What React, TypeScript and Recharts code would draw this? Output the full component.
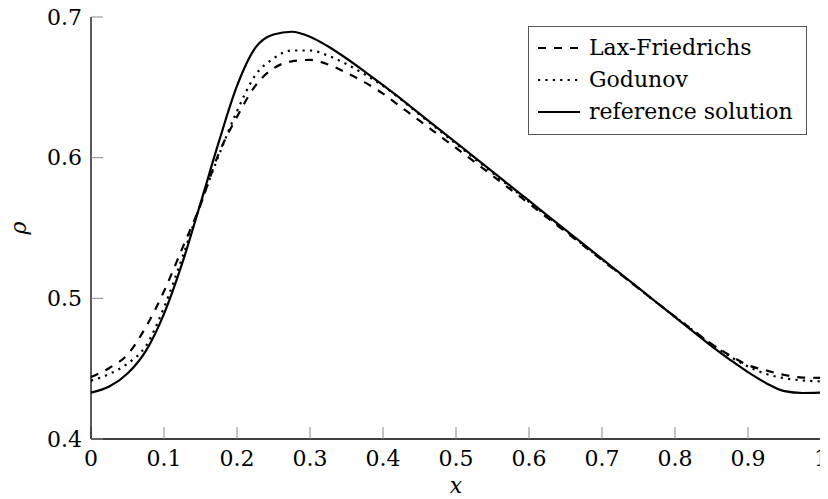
import React from 'react';
import { LineChart, Line, XAxis, YAxis, Legend, Label } from 'recharts';

const xValues = [
  0, 0.025, 0.05, 0.075, 0.1, 0.125, 0.15, 0.175, 0.2, 0.225,
  0.25, 0.275, 0.3, 0.325, 0.35, 0.375, 0.4, 0.425, 0.45, 0.475,
  0.5, 0.525, 0.55, 0.575, 0.6, 0.625, 0.65, 0.675, 0.7, 0.725,
  0.75, 0.775, 0.8, 0.825, 0.85, 0.875, 0.9, 0.925, 0.95, 0.975, 1,
];

const laxFriedrichs = [
  0.444, 0.4505, 0.46, 0.4795, 0.505, 0.5355, 0.5665, 0.603, 0.629, 0.651,
  0.6635, 0.6685, 0.6695, 0.6662, 0.6603, 0.6535, 0.6455, 0.6359, 0.6263, 0.6166,
  0.6069, 0.5971, 0.5872, 0.5773, 0.5674, 0.5573, 0.5473, 0.5373, 0.5272, 0.5172,
  0.5071, 0.497, 0.487, 0.4772, 0.4676, 0.4595, 0.4525, 0.4487, 0.4455, 0.4437, 0.4435,
];

const godunov = [
  0.4415, 0.4462, 0.4536, 0.466, 0.4935, 0.529, 0.567, 0.6015, 0.633, 0.6585,
  0.6705, 0.6762, 0.6762, 0.6725, 0.6665, 0.6592, 0.651, 0.6412, 0.6306, 0.6202,
  0.6098, 0.5995, 0.5892, 0.5789, 0.5686, 0.5583, 0.548, 0.5378, 0.5275, 0.5173,
  0.5071, 0.4969, 0.4868, 0.477, 0.4674, 0.4588, 0.4515, 0.4462, 0.4432, 0.4416, 0.441,
];

const referenceSolution = [
  0.433, 0.4373, 0.4466, 0.4625, 0.489, 0.525, 0.5675, 0.611, 0.651, 0.678,
  0.6876, 0.6895, 0.686, 0.679, 0.6705, 0.6612, 0.6515, 0.6417, 0.6313, 0.621,
  0.6107, 0.6004, 0.59, 0.5797, 0.5694, 0.559, 0.5487, 0.5384, 0.528, 0.5177,
  0.5074, 0.497, 0.4867, 0.4764, 0.466, 0.4565, 0.4475, 0.4397, 0.434, 0.4327, 0.433,
];

const xTicks = [0, 0.1, 0.2, 0.3, 0.4, 0.5, 0.6, 0.7, 0.8, 0.9, 1];
const yTicks = [0.4, 0.5, 0.6, 0.7];

const seriesNames = ['Lax-Friedrichs', 'Godunov', 'reference solution'];

const data = xValues.map((x, i) => ({
  x,
  lf: laxFriedrichs[i],
  god: godunov[i],
  ref: referenceSolution[i],
}));

const FONT = "'DejaVu Serif'";
const FS = 22;
const LW = 2.2;
const DASHED = '8 8';
const DOTTED = '2.2 5.2';

const styles: Record<string, string | undefined> = {
  lf: DASHED,
  god: DOTTED,
  ref: undefined,
};

const renderLegend = (props: any) => {
  const payload = [...(props.payload || [])].sort(
    (a: any, b: any) => seriesNames.indexOf(a.value) - seriesNames.indexOf(b.value)
  );
  return (
    <div
      style={{
        boxSizing: 'border-box',
        width: 279,
        height: 109,
        border: '1px solid #555',
        background: '#fff',
        paddingTop: 5,
        paddingLeft: 9,
        fontFamily: FONT,
        fontSize: FS,
        color: '#000',
      }}
    >
      {payload.map((entry: any) => (
        <div
          key={entry.dataKey}
          style={{ height: 32, lineHeight: '32px', display: 'flex', alignItems: 'center', whiteSpace: 'nowrap' }}
        >
          <svg width={42} height={10} style={{ marginRight: 9, flex: 'none' }}>
            <line
              x1={0}
              y1={5}
              x2={42}
              y2={5}
              stroke="#000"
              strokeWidth={LW}
              strokeDasharray={styles[entry.dataKey as string]}
            />
          </svg>
          <span>{entry.value}</span>
        </div>
      ))}
    </div>
  );
};

const tickStyle = { fontFamily: FONT, fontSize: FS, fill: '#000' };

const RhoLabel = (props: any) => {
  const vb = props.viewBox || { x: 0, y: 0, width: 0, height: 0 };
  const cx = vb.x + 18;
  const cy = vb.y + vb.height / 2;
  return (
    <text
      x={cx}
      y={cy}
      textAnchor="middle"
      transform={`rotate(-90, ${cx}, ${cy})`}
      style={{ fontFamily: FONT, fontSize: FS, fontStyle: 'italic', fill: '#000' }}
    >
      ρ
    </text>
  );
};

export default function App() {
  return (
    <div style={{ width: 820, height: 491 }}>
      <LineChart
        width={820}
        height={491}
        data={data}
        margin={{ top: 9, right: 7, left: 0, bottom: 0 }}
      >
        <XAxis
          dataKey="x"
          type="number"
          domain={[0, 1]}
          ticks={xTicks}
          interval={0}
          height={60}
          tickSize={-12}
          tickMargin={23}
          tick={tickStyle}
          tickFormatter={(v: number) => String(v)}
          axisLine={{ stroke: '#000', strokeWidth: 1.3 }}
          tickLine={{ stroke: '#888', strokeWidth: 1 }}
        >
          <Label
            value="x"
            position="insideBottom"
            offset={6}
            style={{ fontFamily: FONT, fontSize: FS, fontStyle: 'italic', fill: '#000' }}
          />
        </XAxis>
        <XAxis
          xAxisId="top"
          orientation="top"
          dataKey="x"
          type="number"
          domain={[0, 1]}
          ticks={xTicks}
          interval={0}
          height={0}
          tickSize={-12}
          tick={false}
          axisLine={{ stroke: '#000', strokeWidth: 1.3 }}
          tickLine={{ stroke: '#888', strokeWidth: 1 }}
        />
        <YAxis
          type="number"
          domain={[0.4, 0.7]}
          ticks={yTicks}
          interval={0}
          width={83}
          tickSize={-12}
          tickMargin={21}
          tick={tickStyle}
          tickFormatter={(v: number) => String(v)}
          axisLine={{ stroke: '#000', strokeWidth: 1.3 }}
          tickLine={{ stroke: '#888', strokeWidth: 1 }}
          allowDataOverflow
        >
          <Label content={<RhoLabel />} />
        </YAxis>
        <YAxis
          yAxisId="right"
          orientation="right"
          type="number"
          domain={[0.4, 0.7]}
          ticks={yTicks}
          interval={0}
          width={0}
          tickSize={-12}
          tick={false}
          axisLine={{ stroke: '#000', strokeWidth: 1.3 }}
          tickLine={{ stroke: '#888', strokeWidth: 1 }}
          allowDataOverflow
        />
        <Legend
          layout="vertical"
          align="center"
          verticalAlign="middle"
          wrapperStyle={{ top: 18, left: 520, width: 279, height: 109 }}
          content={renderLegend}
        />
        <Line
          dataKey="lf"
          name={seriesNames[0]}
          type="monotone"
          stroke="#000"
          strokeWidth={LW}
          strokeDasharray={DASHED}
          dot={false}
          activeDot={false}
          isAnimationActive={false}
        />
        <Line
          dataKey="god"
          name={seriesNames[1]}
          type="monotone"
          stroke="#000"
          strokeWidth={LW}
          strokeDasharray={DOTTED}
          dot={false}
          activeDot={false}
          isAnimationActive={false}
        />
        <Line
          dataKey="ref"
          name={seriesNames[2]}
          type="monotone"
          stroke="#000"
          strokeWidth={LW}
          dot={false}
          activeDot={false}
          isAnimationActive={false}
        />
      </LineChart>
    </div>
  );
}
